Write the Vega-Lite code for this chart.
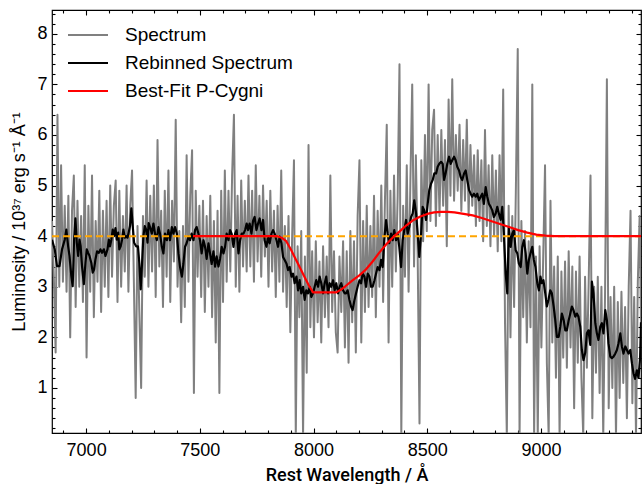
{
"$schema": "https://vega.github.io/schema/vega-lite/v6.json",
"width": 589, "height": 423,
"autosize": "none",
"padding": {"left": 52, "top": 10, "right": 1, "bottom": 51},
"background": "white",
"config": {
  "view": {"stroke": "black", "strokeWidth": 1.2},
  "font": "Liberation Sans",
  "axis": {"domain": false, "grid": false, "ticks": true, "labelFont": "Liberation Sans", "labelFontSize": 18, "labelColor": "black", "tickColor": "black", "tickWidth": 1.1, "tickOpacity": 1, "labelOverlap": false, "labelFlush": false, "titleColor": "black", "zindex": 1}
},
"datasets": {
"spec": [
{"wl":6850,"lum":4.3},{"wl":6858,"lum":3.2},{"wl":6866,"lum":1.7},{"wl":6874,"lum":6.4},{"wl":6882,"lum":3.0},{"wl":6890,"lum":5.4},{"wl":6898,"lum":3.1},{"wl":6906,"lum":4.6},{"wl":6914,"lum":2.9},{"wl":6922,"lum":4.8},{"wl":6930,"lum":2.0},{"wl":6938,"lum":4.5},{"wl":6946,"lum":5.2},{"wl":6954,"lum":2.6},{"wl":6962,"lum":4.7},{"wl":6970,"lum":3.0},{"wl":6978,"lum":4.4},{"wl":6986,"lum":2.7},{"wl":6994,"lum":5.4},{"wl":7002,"lum":1.6},{"wl":7010,"lum":4.6},{"wl":7018,"lum":2.9},{"wl":7026,"lum":5.2},{"wl":7034,"lum":2.4},{"wl":7042,"lum":4.3},{"wl":7050,"lum":3.1},{"wl":7058,"lum":4.9},{"wl":7066,"lum":2.5},{"wl":7074,"lum":4.5},{"wl":7082,"lum":3.0},{"wl":7090,"lum":4.7},{"wl":7098,"lum":2.8},{"wl":7106,"lum":5.0},{"wl":7114,"lum":3.2},{"wl":7122,"lum":4.6},{"wl":7130,"lum":5.1},{"wl":7138,"lum":2.7},{"wl":7146,"lum":4.9},{"wl":7154,"lum":3.0},{"wl":7162,"lum":4.4},{"wl":7170,"lum":3.3},{"wl":7178,"lum":5.0},{"wl":7186,"lum":2.9},{"wl":7194,"lum":4.6},{"wl":7202,"lum":5.3},{"wl":7210,"lum":3.1},{"wl":7218,"lum":0.8},{"wl":7226,"lum":4.2},{"wl":7234,"lum":2.5},{"wl":7242,"lum":1.0},{"wl":7250,"lum":4.4},
{"wl":7258,"lum":3.2},{"wl":7266,"lum":5.1},{"wl":7274,"lum":3.0},{"wl":7282,"lum":4.8},{"wl":7290,"lum":3.3},{"wl":7298,"lum":5.0},{"wl":7306,"lum":2.8},{"wl":7314,"lum":5.9},{"wl":7322,"lum":3.4},{"wl":7330,"lum":4.5},{"wl":7338,"lum":2.6},{"wl":7346,"lum":4.9},{"wl":7354,"lum":3.2},{"wl":7362,"lum":5.3},{"wl":7370,"lum":2.7},{"wl":7378,"lum":4.7},{"wl":7386,"lum":3.5},{"wl":7394,"lum":6.3},{"wl":7402,"lum":3.0},{"wl":7410,"lum":4.1},{"wl":7418,"lum":2.3},{"wl":7426,"lum":4.2},{"wl":7434,"lum":2.6},{"wl":7442,"lum":5.6},{"wl":7450,"lum":3.1},{"wl":7458,"lum":4.8},{"wl":7466,"lum":5.7},{"wl":7474,"lum":0.9},{"wl":7482,"lum":4.9},{"wl":7490,"lum":3.2},{"wl":7498,"lum":4.6},{"wl":7506,"lum":2.8},{"wl":7514,"lum":4.7},{"wl":7522,"lum":2.5},{"wl":7530,"lum":4.4},{"wl":7538,"lum":3.0},{"wl":7546,"lum":4.8},{"wl":7554,"lum":2.4},{"wl":7562,"lum":4.3},{"wl":7570,"lum":1.9},{"wl":7578,"lum":4.5},{"wl":7586,"lum":0.9},{"wl":7594,"lum":4.9},{"wl":7602,"lum":2.7},{"wl":7610,"lum":5.3},{"wl":7618,"lum":3.1},{"wl":7626,"lum":4.9},{"wl":7634,"lum":3.3},{"wl":7642,"lum":5.2},{"wl":7650,"lum":6.4},{"wl":7658,"lum":3.0},{"wl":7666,"lum":4.8},{"wl":7674,"lum":2.9},{"wl":7682,"lum":5.1},{"wl":7690,"lum":3.4},{"wl":7698,"lum":4.7},
{"wl":7706,"lum":3.3},{"wl":7714,"lum":5.2},{"wl":7722,"lum":3.4},{"wl":7730,"lum":4.9},{"wl":7738,"lum":3.1},{"wl":7746,"lum":5.4},{"wl":7754,"lum":3.5},{"wl":7762,"lum":4.8},{"wl":7770,"lum":3.2},{"wl":7778,"lum":5.0},{"wl":7786,"lum":3.6},{"wl":7794,"lum":4.7},{"wl":7802,"lum":3.0},{"wl":7810,"lum":4.9},{"wl":7818,"lum":3.3},{"wl":7826,"lum":4.5},{"wl":7834,"lum":2.8},{"wl":7842,"lum":4.6},{"wl":7850,"lum":3.1},{"wl":7858,"lum":5.3},{"wl":7866,"lum":2.9},{"wl":7874,"lum":4.2},{"wl":7882,"lum":2.6},{"wl":7890,"lum":4.4},{"wl":7898,"lum":2.1},{"wl":7906,"lum":4.0},{"wl":7914,"lum":5.5},{"wl":7922,"lum":0.05},{"wl":7930,"lum":3.8},{"wl":7938,"lum":2.4},{"wl":7946,"lum":4.1},{"wl":7954,"lum":0.05},{"wl":7962,"lum":3.6},{"wl":7970,"lum":1.3},{"wl":7978,"lum":5.8},{"wl":7986,"lum":2.2},{"wl":7994,"lum":3.7},{"wl":8002,"lum":2.0},{"wl":8010,"lum":3.9},{"wl":8018,"lum":2.3},{"wl":8026,"lum":3.5},{"wl":8034,"lum":1.9},{"wl":8042,"lum":3.8},{"wl":8050,"lum":2.4},{"wl":8058,"lum":3.6},{"wl":8066,"lum":2.2},{"wl":8074,"lum":5.2},{"wl":8082,"lum":2.5},{"wl":8090,"lum":3.7},{"wl":8098,"lum":2.1},{"wl":8106,"lum":1.7},{"wl":8114,"lum":3.6},
{"wl":8122,"lum":2.5},{"wl":8130,"lum":3.9},{"wl":8138,"lum":1.8},{"wl":8146,"lum":3.7},{"wl":8154,"lum":1.5},{"wl":8162,"lum":4.1},{"wl":8170,"lum":2.3},{"wl":8178,"lum":3.9},{"wl":8186,"lum":1.7},{"wl":8194,"lum":4.4},{"wl":8202,"lum":5.5},{"wl":8210,"lum":1.9},{"wl":8218,"lum":4.3},{"wl":8226,"lum":2.5},{"wl":8234,"lum":4.6},{"wl":8242,"lum":2.6},{"wl":8250,"lum":4.2},{"wl":8258,"lum":2.8},{"wl":8266,"lum":4.8},{"wl":8274,"lum":2.4},{"wl":8282,"lum":4.5},{"wl":8290,"lum":3.0},{"wl":8298,"lum":5.0},{"wl":8306,"lum":2.7},{"wl":8314,"lum":4.7},{"wl":8322,"lum":6.2},{"wl":8330,"lum":1.9},{"wl":8338,"lum":4.9},{"wl":8346,"lum":3.0},{"wl":8354,"lum":5.2},{"wl":8362,"lum":3.3},{"wl":8370,"lum":4.8},{"wl":8378,"lum":7.4},{"wl":8386,"lum":0.05},{"wl":8394,"lum":4.6},{"wl":8402,"lum":3.2},{"wl":8410,"lum":5.4},{"wl":8418,"lum":2.9},{"wl":8426,"lum":5.1},{"wl":8434,"lum":7.0},{"wl":8442,"lum":3.4},{"wl":8450,"lum":5.6},{"wl":8458,"lum":3.6},{"wl":8466,"lum":0.3},{"wl":8474,"lum":5.5},{"wl":8482,"lum":3.9},{"wl":8490,"lum":6.0},{"wl":8498,"lum":4.1},{"wl":8506,"lum":7.0},{"wl":8514,"lum":4.3},{"wl":8522,"lum":6.1},{"wl":8530,"lum":6.5},{"wl":8538,"lum":4.2},{"wl":8546,"lum":6.0},{"wl":8554,"lum":4.4},
{"wl":8562,"lum":6.1},{"wl":8570,"lum":4.6},{"wl":8578,"lum":5.9},{"wl":8586,"lum":3.8},{"wl":8594,"lum":6.7},{"wl":8602,"lum":4.8},{"wl":8610,"lum":7.1},{"wl":8618,"lum":4.7},{"wl":8626,"lum":6.0},{"wl":8634,"lum":4.9},{"wl":8642,"lum":6.2},{"wl":8650,"lum":4.5},{"wl":8658,"lum":5.9},{"wl":8666,"lum":4.7},{"wl":8674,"lum":6.3},{"wl":8682,"lum":4.4},{"wl":8690,"lum":5.8},{"wl":8698,"lum":4.6},{"wl":8706,"lum":5.6},{"wl":8714,"lum":4.2},{"wl":8722,"lum":5.7},{"wl":8730,"lum":4.3},{"wl":8738,"lum":5.5},{"wl":8746,"lum":3.9},{"wl":8754,"lum":6.1},{"wl":8762,"lum":4.2},{"wl":8770,"lum":5.4},{"wl":8778,"lum":3.8},{"wl":8786,"lum":5.6},{"wl":8794,"lum":4.0},{"wl":8802,"lum":5.3},{"wl":8810,"lum":3.7},{"wl":8818,"lum":5.6},{"wl":8826,"lum":3.9},{"wl":8834,"lum":6.9},{"wl":8842,"lum":2.3},{"wl":8850,"lum":0.05},{"wl":8858,"lum":4.6},{"wl":8866,"lum":2.0},{"wl":8874,"lum":4.4},{"wl":8882,"lum":2.6},{"wl":8890,"lum":5.0},{"wl":8898,"lum":7.7},{"wl":8906,"lum":0.05},
{"wl":8914,"lum":4.3},{"wl":8922,"lum":2.4},{"wl":8930,"lum":4.1},{"wl":8938,"lum":1.9},{"wl":8946,"lum":3.9},{"wl":8954,"lum":2.2},{"wl":8962,"lum":7.0},{"wl":8970,"lum":0.05},{"wl":8978,"lum":3.6},{"wl":8986,"lum":0.05},{"wl":8994,"lum":3.8},{"wl":9002,"lum":1.8},{"wl":9010,"lum":3.6},{"wl":9018,"lum":5.4},{"wl":9026,"lum":1.5},{"wl":9034,"lum":0.05},{"wl":9042,"lum":4.7},{"wl":9050,"lum":1.9},{"wl":9058,"lum":3.4},{"wl":9066,"lum":1.2},{"wl":9074,"lum":3.6},{"wl":9082,"lum":0.05},{"wl":9090,"lum":3.3},{"wl":9098,"lum":1.6},{"wl":9106,"lum":3.5},{"wl":9114,"lum":1.4},{"wl":9122,"lum":3.7},{"wl":9130,"lum":1.8},{"wl":9138,"lum":3.4},{"wl":9146,"lum":0.6},{"wl":9154,"lum":3.3},{"wl":9162,"lum":1.5},{"wl":9170,"lum":3.6},{"wl":9178,"lum":1.2},{"wl":9186,"lum":0.05},{"wl":9194,"lum":3.2},{"wl":9202,"lum":1.4},{"wl":9210,"lum":3.1},{"wl":9218,"lum":5.2},{"wl":9226,"lum":0.4},{"wl":9234,"lum":3.0},{"wl":9242,"lum":1.3},{"wl":9250,"lum":3.2},{"wl":9258,"lum":0.9},{"wl":9266,"lum":3.0},{"wl":9274,"lum":0.05},{"wl":9282,"lum":2.9},{"wl":9290,"lum":7.1},{"wl":9298,"lum":0.6},{"wl":9306,"lum":2.8},{"wl":9314,"lum":1.0},{"wl":9322,"lum":3.0},{"wl":9330,"lum":0.05},{"wl":9338,"lum":2.7},{"wl":9346,"lum":0.8},{"wl":9354,"lum":2.9},{"wl":9362,"lum":1.1},{"wl":9370,"lum":2.6},{"wl":9378,"lum":0.4},{"wl":9386,"lum":3.0},{"wl":9394,"lum":4.5},{"wl":9402,"lum":0.7},{"wl":9410,"lum":2.8},{"wl":9418,"lum":0.05},{"wl":9426,"lum":3.1},{"wl":9434,"lum":4.4},{"wl":9442,"lum":1.5}
],
"rebin": [
{"wl":6850,"lum":3.93},{"wl":6862,"lum":3.74},{"wl":6872,"lum":3.41},{"wl":6883,"lum":3.41},{"wl":6894,"lum":3.74},{"wl":6906,"lum":3.93},{"wl":6913,"lum":4.13},{"wl":6921,"lum":3.8},{"wl":6927,"lum":3.61},{"wl":6935,"lum":3.21},{"wl":6941,"lum":3.01},{"wl":6947,"lum":3.93},{"wl":6953,"lum":4.35},{"wl":6959,"lum":3.87},{"wl":6965,"lum":3.61},{"wl":6971,"lum":3.93},{"wl":6976,"lum":3.8},{"wl":6982,"lum":3.41},{"wl":6990,"lum":3.05},{"wl":6997,"lum":3.47},{"wl":7003,"lum":3.74},{"wl":7009,"lum":3.67},{"wl":7015,"lum":3.61},{"wl":7023,"lum":3.47},{"wl":7029,"lum":3.28},{"wl":7035,"lum":3.34},{"wl":7041,"lum":3.54},{"wl":7048,"lum":3.7},{"wl":7056,"lum":3.67},{"wl":7063,"lum":3.74},{"wl":7070,"lum":3.67},{"wl":7078,"lum":3.74},{"wl":7085,"lum":3.61},{"wl":7094,"lum":3.74},{"wl":7100,"lum":3.93},{"wl":7105,"lum":3.8},{"wl":7111,"lum":3.93},{"wl":7117,"lum":4.13},{"wl":7123,"lum":4.0},{"wl":7129,"lum":4.16},{"wl":7135,"lum":3.93},{"wl":7141,"lum":4.07},{"wl":7146,"lum":3.74},{"wl":7152,"lum":3.8},{"wl":7158,"lum":3.93},{"wl":7164,"lum":4.13},{"wl":7170,"lum":3.97},{"wl":7176,"lum":4.0},{"wl":7182,"lum":3.97},{"wl":7187,"lum":4.07},{"wl":7193,"lum":4.2},{"wl":7199,"lum":4.55},{"wl":7205,"lum":4.2},{"wl":7211,"lum":3.87},{"wl":7220,"lum":3.8},{"wl":7228,"lum":3.8},{"wl":7234,"lum":3.47},{"wl":7240,"lum":2.95},{"wl":7246,"lum":3.47},{"wl":7252,"lum":4.0},{"wl":7258,"lum":4.2},{"wl":7264,"lum":4.13},{"wl":7270,"lum":3.87},{"wl":7275,"lum":4.26},
{"wl":7281,"lum":4.18},{"wl":7289,"lum":4.05},{"wl":7296,"lum":4.25},{"wl":7303,"lum":4.05},{"wl":7311,"lum":3.92},{"wl":7318,"lum":4.18},{"wl":7325,"lum":4.05},{"wl":7333,"lum":3.79},{"wl":7340,"lum":3.66},{"wl":7347,"lum":4.05},{"wl":7355,"lum":3.92},{"wl":7362,"lum":4.12},{"wl":7369,"lum":3.92},{"wl":7377,"lum":4.18},{"wl":7384,"lum":4.05},{"wl":7391,"lum":4.18},{"wl":7399,"lum":4.05},{"wl":7406,"lum":3.66},{"wl":7413,"lum":3.39},{"wl":7421,"lum":3.2},{"wl":7428,"lum":3.46},{"wl":7435,"lum":3.79},{"wl":7442,"lum":3.86},{"wl":7450,"lum":3.99},{"wl":7457,"lum":3.92},{"wl":7464,"lum":4.05},{"wl":7472,"lum":3.92},{"wl":7479,"lum":4.12},{"wl":7486,"lum":4.18},{"wl":7494,"lum":4.05},{"wl":7501,"lum":3.92},{"wl":7508,"lum":3.66},{"wl":7516,"lum":3.92},{"wl":7523,"lum":3.79},{"wl":7530,"lum":3.55},{"wl":7538,"lum":3.86},{"wl":7545,"lum":3.66},{"wl":7552,"lum":3.45},{"wl":7560,"lum":3.7},{"wl":7567,"lum":3.4},{"wl":7574,"lum":3.6},{"wl":7582,"lum":3.4},{"wl":7589,"lum":3.55},{"wl":7596,"lum":3.79},{"wl":7604,"lum":3.66},{"wl":7611,"lum":3.79},{"wl":7618,"lum":4.05},{"wl":7626,"lum":3.92},{"wl":7633,"lum":4.12},{"wl":7640,"lum":4.05},{"wl":7648,"lum":3.79},{"wl":7655,"lum":4.05},{"wl":7662,"lum":4.12},{"wl":7670,"lum":3.66},{"wl":7677,"lum":3.92},{"wl":7684,"lum":4.05},{"wl":7692,"lum":4.05},{"wl":7699,"lum":4.12},{"wl":7706,"lum":4.25},
{"wl":7712,"lum":4.12},{"wl":7719,"lum":4.25},{"wl":7727,"lum":4.05},{"wl":7734,"lum":4.3},{"wl":7741,"lum":4.38},{"wl":7749,"lum":4.12},{"wl":7756,"lum":4.25},{"wl":7763,"lum":4.35},{"wl":7771,"lum":4.12},{"wl":7778,"lum":4.32},{"wl":7785,"lum":3.92},{"wl":7793,"lum":3.79},{"wl":7800,"lum":3.99},{"wl":7807,"lum":3.86},{"wl":7815,"lum":4.05},{"wl":7822,"lum":4.12},{"wl":7829,"lum":4.05},{"wl":7837,"lum":3.92},{"wl":7844,"lum":3.79},{"wl":7851,"lum":3.99},{"wl":7859,"lum":3.86},{"wl":7866,"lum":3.59},{"wl":7873,"lum":3.53},{"wl":7881,"lum":3.46},{"wl":7888,"lum":3.33},{"wl":7895,"lum":3.39},{"wl":7903,"lum":3.2},{"wl":7910,"lum":3.26},{"wl":7917,"lum":3.07},{"wl":7925,"lum":3.2},{"wl":7932,"lum":2.93},{"wl":7939,"lum":3.13},{"wl":7946,"lum":2.87},{"wl":7954,"lum":3.0},{"wl":7961,"lum":2.74},{"wl":7968,"lum":2.93},{"wl":7976,"lum":2.87},{"wl":7983,"lum":3.0},{"wl":7990,"lum":2.8},{"wl":7998,"lum":2.87},{"wl":8005,"lum":3.0},{"wl":8012,"lum":3.13},{"wl":8020,"lum":3.0},{"wl":8027,"lum":3.2},{"wl":8034,"lum":3.07},{"wl":8042,"lum":2.87},{"wl":8049,"lum":3.07},{"wl":8056,"lum":3.2},{"wl":8064,"lum":2.87},{"wl":8071,"lum":3.07},{"wl":8078,"lum":3.0},{"wl":8086,"lum":3.13},{"wl":8093,"lum":2.93},{"wl":8100,"lum":3.07},{"wl":8108,"lum":2.87},{"wl":8115,"lum":3.0},{"wl":8122,"lum":3.07},{"wl":8130,"lum":2.93},{"wl":8137,"lum":2.87},
{"wl":8143,"lum":2.87},{"wl":8150,"lum":2.93},{"wl":8158,"lum":2.74},{"wl":8165,"lum":2.61},{"wl":8172,"lum":2.54},{"wl":8180,"lum":2.74},{"wl":8187,"lum":2.87},{"wl":8194,"lum":3.0},{"wl":8202,"lum":3.13},{"wl":8209,"lum":3.07},{"wl":8216,"lum":3.26},{"wl":8224,"lum":3.2},{"wl":8231,"lum":3.0},{"wl":8238,"lum":3.26},{"wl":8246,"lum":3.2},{"wl":8253,"lum":3.0},{"wl":8260,"lum":3.0},{"wl":8268,"lum":3.13},{"wl":8275,"lum":3.26},{"wl":8282,"lum":3.39},{"wl":8290,"lum":3.33},{"wl":8297,"lum":3.53},{"wl":8304,"lum":3.39},{"wl":8311,"lum":3.92},{"wl":8319,"lum":4.32},{"wl":8326,"lum":4.05},{"wl":8333,"lum":3.86},{"wl":8341,"lum":4.05},{"wl":8348,"lum":3.92},{"wl":8355,"lum":4.12},{"wl":8363,"lum":3.92},{"wl":8370,"lum":4.05},{"wl":8377,"lum":3.79},{"wl":8385,"lum":3.39},{"wl":8392,"lum":3.92},{"wl":8399,"lum":4.12},{"wl":8407,"lum":4.32},{"wl":8414,"lum":4.05},{"wl":8421,"lum":4.18},{"wl":8429,"lum":4.38},{"wl":8436,"lum":4.45},{"wl":8443,"lum":4.71},{"wl":8451,"lum":4.45},{"wl":8458,"lum":4.05},{"wl":8465,"lum":3.59},{"wl":8473,"lum":4.05},{"wl":8480,"lum":4.58},{"wl":8487,"lum":4.51},{"wl":8495,"lum":4.32},{"wl":8502,"lum":4.64},{"wl":8509,"lum":4.91},{"wl":8517,"lum":5.04},{"wl":8524,"lum":5.11},{"wl":8531,"lum":5.24},{"wl":8539,"lum":5.24},{"wl":8546,"lum":5.37},{"wl":8553,"lum":5.43},{"wl":8561,"lum":5.47},{"wl":8568,"lum":5.43},
{"wl":8574,"lum":5.11},{"wl":8581,"lum":5.24},{"wl":8588,"lum":5.43},{"wl":8596,"lum":5.57},{"wl":8603,"lum":5.43},{"wl":8610,"lum":5.5},{"wl":8618,"lum":5.57},{"wl":8625,"lum":5.5},{"wl":8632,"lum":5.37},{"wl":8640,"lum":5.3},{"wl":8647,"lum":5.17},{"wl":8654,"lum":5.11},{"wl":8662,"lum":5.24},{"wl":8669,"lum":5.3},{"wl":8676,"lum":5.11},{"wl":8684,"lum":4.91},{"wl":8691,"lum":4.84},{"wl":8698,"lum":4.78},{"wl":8705,"lum":4.84},{"wl":8713,"lum":4.78},{"wl":8720,"lum":4.84},{"wl":8727,"lum":4.71},{"wl":8735,"lum":4.78},{"wl":8742,"lum":4.84},{"wl":8749,"lum":4.64},{"wl":8757,"lum":4.97},{"wl":8764,"lum":4.78},{"wl":8771,"lum":4.64},{"wl":8779,"lum":4.58},{"wl":8786,"lum":4.51},{"wl":8793,"lum":4.38},{"wl":8801,"lum":4.45},{"wl":8808,"lum":4.58},{"wl":8815,"lum":4.45},{"wl":8823,"lum":4.32},{"wl":8830,"lum":4.58},{"wl":8837,"lum":4.05},{"wl":8845,"lum":3.26},{"wl":8852,"lum":2.87},{"wl":8859,"lum":4.18},{"wl":8867,"lum":3.79},{"wl":8874,"lum":4.05},{"wl":8881,"lum":4.12},{"wl":8889,"lum":3.72},{"wl":8896,"lum":3.66},{"wl":8903,"lum":3.46},{"wl":8911,"lum":3.39},{"wl":8918,"lum":3.79},{"wl":8925,"lum":3.92},{"wl":8933,"lum":3.66},{"wl":8940,"lum":3.26},{"wl":8947,"lum":3.53},{"wl":8954,"lum":3.66},{"wl":8962,"lum":3.79},{"wl":8969,"lum":3.53},{"wl":8976,"lum":3.39},{"wl":8984,"lum":3.07},{"wl":8991,"lum":2.93},{"wl":8998,"lum":3.2},
{"wl":9004,"lum":3.07},{"wl":9011,"lum":3.13},{"wl":9019,"lum":2.87},{"wl":9026,"lum":2.61},{"wl":9033,"lum":2.74},{"wl":9041,"lum":2.93},{"wl":9048,"lum":2.87},{"wl":9056,"lum":2.61},{"wl":9063,"lum":2.34},{"wl":9070,"lum":2.01},{"wl":9078,"lum":2.01},{"wl":9085,"lum":2.21},{"wl":9092,"lum":2.47},{"wl":9100,"lum":2.34},{"wl":9107,"lum":2.14},{"wl":9114,"lum":2.14},{"wl":9122,"lum":2.34},{"wl":9129,"lum":2.47},{"wl":9136,"lum":2.61},{"wl":9143,"lum":2.54},{"wl":9151,"lum":2.41},{"wl":9158,"lum":2.47},{"wl":9165,"lum":2.41},{"wl":9173,"lum":2.21},{"wl":9180,"lum":1.75},{"wl":9187,"lum":1.55},{"wl":9195,"lum":1.7},{"wl":9202,"lum":2.08},{"wl":9209,"lum":2.14},{"wl":9217,"lum":1.85},{"wl":9224,"lum":3.1},{"wl":9231,"lum":2.87},{"wl":9239,"lum":2.28},{"wl":9246,"lum":2.08},{"wl":9253,"lum":1.95},{"wl":9261,"lum":2.21},{"wl":9268,"lum":2.28},{"wl":9275,"lum":2.08},{"wl":9283,"lum":2.54},{"wl":9290,"lum":2.34},{"wl":9297,"lum":1.88},{"wl":9305,"lum":1.62},{"wl":9312,"lum":1.59},{"wl":9319,"lum":1.62},{"wl":9327,"lum":1.68},{"wl":9334,"lum":1.75},{"wl":9341,"lum":1.88},{"wl":9349,"lum":2.08},{"wl":9356,"lum":1.82},{"wl":9363,"lum":1.68},{"wl":9371,"lum":1.82},{"wl":9378,"lum":1.75},{"wl":9385,"lum":1.68},{"wl":9393,"lum":1.75},{"wl":9400,"lum":1.49},{"wl":9407,"lum":1.29},{"wl":9414,"lum":1.18},{"wl":9422,"lum":1.35},{"wl":9429,"lum":1.2},{"wl":9436,"lum":1.6},{"wl":9440,"lum":2.3}
],
"fit": [
{"wl":7470,"lum":4.0},{"wl":7840,"lum":4.0},{"wl":7860,"lum":3.97},{"wl":7880,"lum":3.9},{"wl":7900,"lum":3.74},{"wl":7920,"lum":3.56},{"wl":7940,"lum":3.38},{"wl":7960,"lum":3.2},{"wl":7980,"lum":3.02},{"wl":7998,"lum":2.89},{"wl":8100,"lum":2.89},{"wl":8120,"lum":2.94},{"wl":8140,"lum":3.01},{"wl":8170,"lum":3.12},{"wl":8200,"lum":3.22},{"wl":8230,"lum":3.34},{"wl":8260,"lum":3.5},{"wl":8290,"lum":3.68},{"wl":8320,"lum":3.84},{"wl":8350,"lum":3.98},{"wl":8380,"lum":4.1},{"wl":8410,"lum":4.22},{"wl":8440,"lum":4.32},{"wl":8470,"lum":4.39},{"wl":8500,"lum":4.44},{"wl":8530,"lum":4.47},{"wl":8560,"lum":4.48},{"wl":8590,"lum":4.48},{"wl":8620,"lum":4.47},{"wl":8660,"lum":4.44},{"wl":8700,"lum":4.41},{"wl":8740,"lum":4.36},{"wl":8780,"lum":4.3},{"wl":8820,"lum":4.24},{"wl":8860,"lum":4.18},{"wl":8900,"lum":4.12},{"wl":8940,"lum":4.07},{"wl":8980,"lum":4.03},{"wl":9020,"lum":4.01},{"wl":9060,"lum":4.0},{"wl":9440,"lum":4.0}
]
},
"layer": [
{
  "data": {"name": "spec"},
  "mark": {"type": "line", "strokeWidth": 2, "strokeJoin": "round", "clip": true},
  "encoding": {
    "x": {"field": "wl", "type": "quantitative", "scale": {"domain": [6850, 9440], "nice": false, "zero": false},
      "axis": {"orient": "bottom", "values": [7000, 7500, 8000, 8500, 9000], "format": "d", "offset": -5, "tickSize": 5, "labelOverlap": false,
        "labelPadding": 8, "title": "Rest Wavelength / Å", "titleFont": "Roboto", "titleFontWeight": 500, "titleFontSize": 18, "titlePadding": 7}},
    "y": {"field": "lum", "type": "quantitative", "scale": {"domain": [0.11, 8.47], "nice": false, "zero": false},
      "axis": {"orient": "left", "values": [1, 2, 3, 4, 5, 6, 7, 8], "format": "d", "offset": -5, "tickSize": 5, "labelOverlap": false,
        "labelPadding": 5, "title": "Luminosity / 10³⁷ erg s⁻¹ Å⁻¹", "titleFont": "Liberation Sans", "titleFontWeight": "normal", "titleFontSize": 18, "titlePadding": 8}},
    "color": {"datum": "Spectrum", "type": "nominal",
      "scale": {"domain": ["Spectrum", "Rebinned Spectrum", "Best-Fit P-Cygni"], "range": ["#808080", "#000000", "#ff0000"]},
      "legend": {"title": null, "orient": "none", "legendX": 15, "legendY": 11, "symbolType": "stroke", "symbolSize": 1600, "symbolStrokeWidth": 2, "labelFontSize": 19, "labelFont": "Liberation Sans", "labelColor": "black", "labelOffset": 16, "labelLimit": 400, "clipHeight": 28, "rowPadding": 0, "padding": 0}}
  }
},
{
  "data": {"name": "rebin"},
  "mark": {"type": "line", "strokeWidth": 2.2, "strokeJoin": "round", "clip": true},
  "encoding": {
    "x": {"field": "wl", "type": "quantitative",
      "axis": {"orient": "bottom", "values": [6900,7100,7200,7300,7400,7600,7700,7800,7900,8100,8200,8300,8400,8600,8700,8800,8900,9100,9200,9300,9400],
        "labels": false, "title": null, "offset": -3, "tickSize": 3}},
    "y": {"field": "lum", "type": "quantitative",
      "axis": {"orient": "left", "values": [0.2,0.4,0.6,0.8,1.2,1.4,1.6,1.8,2.2,2.4,2.6,2.8,3.2,3.4,3.6,3.8,4.2,4.4,4.6,4.8,5.2,5.4,5.6,5.8,6.2,6.4,6.6,6.8,7.2,7.4,7.6,7.8,8.2,8.4],
        "labels": false, "title": null, "offset": -3, "tickSize": 3}},
    "color": {"datum": "Rebinned Spectrum", "type": "nominal"}
  }
},
{
  "data": {"values": [{}]},
  "mark": {"type": "rule", "color": "#ffa500", "strokeWidth": 2, "strokeDash": [7, 4]},
  "encoding": {
    "x": {"datum": 6850, "type": "quantitative",
      "axis": {"orient": "top", "values": [6900,7100,7200,7300,7400,7600,7700,7800,7900,8100,8200,8300,8400,8600,8700,8800,8900,9100,9200,9300,9400],
        "labels": false, "title": null, "offset": -3, "tickSize": 3}},
    "x2": {"datum": 9440},
    "y": {"datum": 4, "type": "quantitative",
      "axis": {"orient": "right", "values": [0.2,0.4,0.6,0.8,1.2,1.4,1.6,1.8,2.2,2.4,2.6,2.8,3.2,3.4,3.6,3.8,4.2,4.4,4.6,4.8,5.2,5.4,5.6,5.8,6.2,6.4,6.6,6.8,7.2,7.4,7.6,7.8,8.2,8.4],
        "labels": false, "title": null, "offset": -3, "tickSize": 3}}
  }
},
{
  "data": {"name": "fit"},
  "mark": {"type": "line", "strokeWidth": 2.2, "strokeJoin": "round", "clip": true},
  "encoding": {
    "x": {"field": "wl", "type": "quantitative",
      "axis": {"orient": "top", "values": [7000, 7500, 8000, 8500, 9000], "labels": false, "title": null, "offset": -5, "tickSize": 5}},
    "y": {"field": "lum", "type": "quantitative",
      "axis": {"orient": "right", "values": [1, 2, 3, 4, 5, 6, 7, 8], "labels": false, "title": null, "offset": -5, "tickSize": 5}},
    "color": {"datum": "Best-Fit P-Cygni", "type": "nominal"}
  }
}
],
"resolve": {"axis": {"x": "independent", "y": "independent"}}
}
